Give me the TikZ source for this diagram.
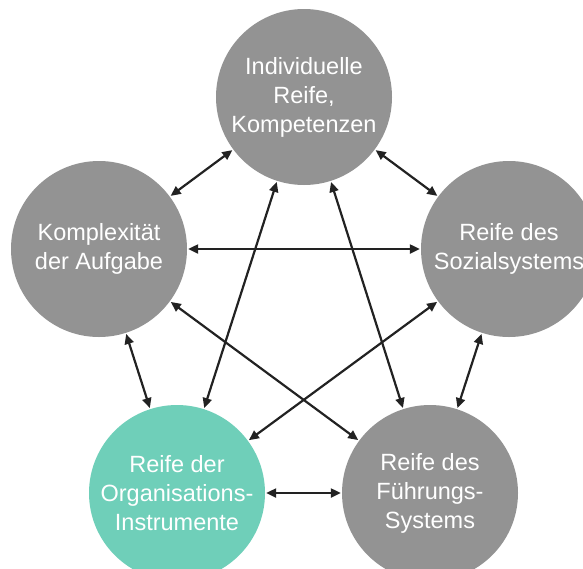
\documentclass[tikz,border=0pt]{standalone}
\usepackage{fontspec}
\setmainfont{Liberation Sans}
\usetikzlibrary{arrows.meta}
\definecolor{circgray}{HTML}{939393}
\definecolor{circteal}{HTML}{6FCFB9}
\definecolor{arrowcol}{HTML}{222222}
\begin{document}
\begin{tikzpicture}[x=1pt,y=-1pt,
  bubble/.style={circle,fill=circgray,minimum size=176pt,inner sep=0pt,
    text=white,align=center,font=\fontsize{23.5}{29}\selectfont},
  link/.style={draw=arrowcol,line width=2.2pt,
    {Triangle[length=10pt,width=9pt]}-{Triangle[length=10pt,width=9pt]},
    shorten <=1pt,shorten >=1pt}]
\useasboundingbox (0,0) rectangle (583,568);
\clip (0,0) rectangle (583,568);
\node[bubble] (ind) at (304,97) {Individuelle\\Reife,\\Kompetenzen};
\node[bubble] (kom) at (99,249) {Komplexität\\der Aufgabe};
\node[bubble] (soz) at (509,249) {Reife des\\Sozialsystems};
\node[bubble,fill=circteal] (org) at (177,493) {Reife der\\Organisations-\\Instrumente};
\node[bubble] (fue) at (430,493) {Reife des\\Führungs-\\Systems};
\draw[link] (ind) -- (kom);
\draw[link] (ind) -- (soz);
\draw[link] (ind) -- (org);
\draw[link] (ind) -- (fue);
\draw[link] (kom) -- (soz);
\draw[link] (kom) -- (org);
\draw[link] (kom) -- (fue);
\draw[link] (soz) -- (org);
\draw[link] (soz) -- (fue);
\draw[link] (org) -- (fue);
\end{tikzpicture}
\end{document}
